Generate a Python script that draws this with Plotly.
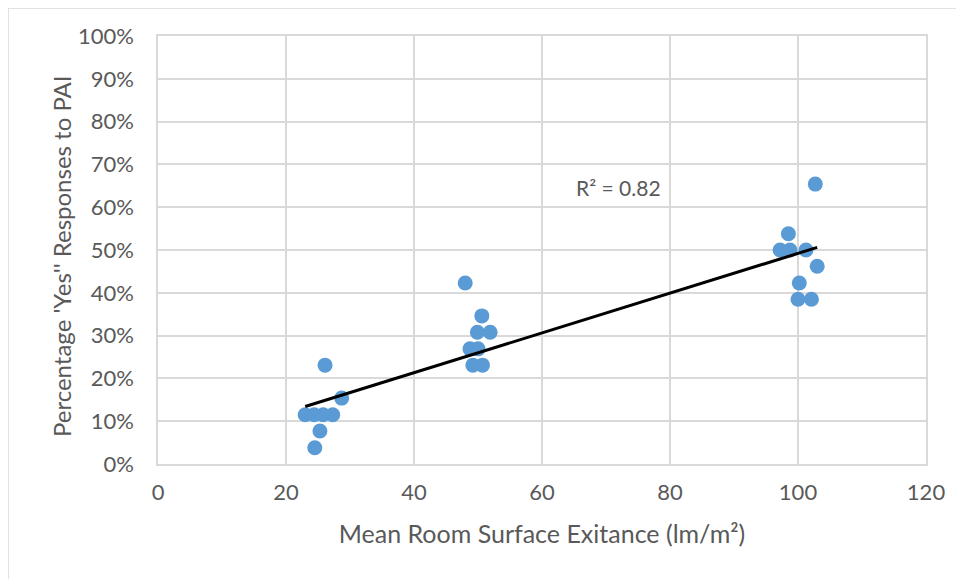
import numpy as np
import plotly.graph_objects as go

# Data
exitance = [23.0, 24.4, 25.8, 27.3, 25.3, 24.5, 26.1, 28.7,
            48.0, 50.6, 49.9, 51.9, 48.75, 50.0, 49.2, 50.7,
            102.7, 98.5, 97.2, 98.75, 101.25, 103.0, 100.2, 100.0, 102.1]
pct_yes = [0.115, 0.115, 0.115, 0.115, 0.077, 0.038, 0.231, 0.154,
           0.423, 0.346, 0.308, 0.308, 0.269, 0.269, 0.231, 0.231,
           0.654, 0.538, 0.50, 0.50, 0.50, 0.462, 0.423, 0.385, 0.385]
x_ticks = [0, 20, 40, 60, 80, 100, 120]
y_ticks = [0, 0.1, 0.2, 0.3, 0.4, 0.5, 0.6, 0.7, 0.8, 0.9, 1.0]
r2_label = "R² = 0.82"
x_title = "Mean Room Surface Exitance (lm/m²)"
y_title = "Percentage 'Yes'' Responses to PAI"

x = np.array(exitance)
y = np.array(pct_yes)
slope, intercept = np.polyfit(x, y, 1)
xf = np.array([x.min(), x.max()])
yf = slope * xf + intercept

FONT = "Lato, 'Open Sans', sans-serif"
GREY = "#595959"

fig = go.Figure()
fig.add_trace(go.Scatter(
    x=exitance, y=pct_yes, mode="markers",
    marker=dict(size=15, color="#5B9BD5", line=dict(width=0)),
    showlegend=False, hoverinfo="x+y"))
fig.add_trace(go.Scatter(
    x=xf, y=yf, mode="lines",
    line=dict(color="black", width=3),
    showlegend=False, hoverinfo="skip"))

fig.add_annotation(x=72.0, y=0.645, text=r2_label, showarrow=False,
                   font=dict(family=FONT, size=21, color=GREY))

# page body has an 8px margin; compensate
OFF = 8
W, H = 964 - OFF, 579 - OFF
L, T = 158 - OFF, 36 - OFF
R = W - (926 - OFF)
B = H - (464 - OFF)
pw = W - L - R
ph = H - T - B

# y-axis title as rotated annotation centred at page pixel (62, 256)
fig.add_annotation(xref="paper", yref="paper",
                   x=(62 - 158) / pw, y=(464 - 256) / ph,
                   xanchor="center", yanchor="middle",
                   text=y_title, textangle=-90, showarrow=False,
                   font=dict(family=FONT, size=24, color=GREY))

fig.add_shape(type="rect", xref="paper", yref="paper",
              x0=(0 - L) / pw, x1=(W + 20 - L) / pw,
              y0=-(B + 20) / ph, y1=(H - B) / ph,
              line=dict(color="#d9d9d9", width=1.5), layer="below")

fig.update_layout(
    width=W, height=H,
    margin=dict(l=L, r=R, t=T, b=B),
    paper_bgcolor="white", plot_bgcolor="white",
    font=dict(family=FONT, size=22, color=GREY),
    xaxis=dict(range=[0, 120], tickvals=x_ticks, showgrid=True,
               gridcolor="#d9d9d9", gridwidth=1.5, zeroline=False,
               showline=True, linecolor="#d9d9d9", linewidth=1.5, mirror=True,
               ticks="", ticklabelstandoff=8,
               tickfont=dict(size=22, color=GREY),
               title=dict(text=x_title,
                          font=dict(size=25, color=GREY), standoff=21)),
    yaxis=dict(range=[0, 1.0], tickvals=y_ticks, tickformat=".0%",
               showgrid=True, gridcolor="#d9d9d9", gridwidth=1.5,
               zeroline=False, showline=True, linecolor="#d9d9d9",
               linewidth=1.5, mirror=True, ticks="", ticklabelstandoff=18,
               tickfont=dict(size=22, color=GREY)),
)

fig.write_html("out.html")
